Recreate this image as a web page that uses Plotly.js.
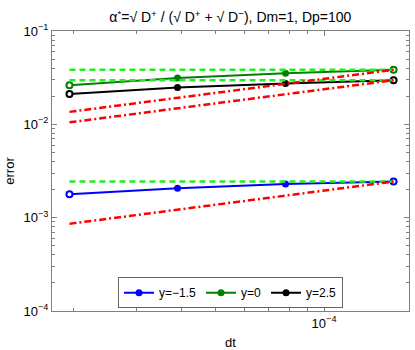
<!DOCTYPE html>
<html>
<head>
<meta charset="utf-8">
<script src="https://cdn.plot.ly/plotly-3.0.1.min.js"></script>
<style>
  html, body { margin: 0; padding: 0; background: #fff; }
  #chart { width: 415px; height: 350px; }
</style>
</head>
<body>
<div id="chart"></div>
<script>
// 時間步長
const dt = [1.953125e-5, 3.90625e-5, 7.8125e-5, 1.5625e-4];

// 三條誤差曲線
const errM15 = [0.00178, 0.00207, 0.00230, 0.00244];
const err0   = [0.0262, 0.0313, 0.0353, 0.0384];
const err25  = [0.0212, 0.0248, 0.0274, 0.0297];

// 綠色虛線（水平參考線）
const flatHi  = [0.0384, 0.0384, 0.0384, 0.0384];
const flatMid = [0.0297, 0.0297, 0.0297, 0.0297];
const flatLo  = [0.00244, 0.00244, 0.00244, 0.00244];

// 紅色點劃線（斜率 1/2 參考線）
const halfHi  = [0.0136, 0.0192, 0.0272, 0.0384];
const halfMid = [0.0105, 0.0149, 0.0210, 0.0297];
const halfLo  = [0.00086, 0.00122, 0.00173, 0.00244];

// 刻度
const xTickVals = [1e-4];
const xTickText = ['10<sup>\u22124</sup>'];
const yTickVals = [1e-4, 1e-3, 1e-2, 1e-1];
const yTickText = ['10<sup>\u22124</sup>', '10<sup>\u22123</sup>', '10<sup>\u22122</sup>', '10<sup>\u22121</sup>'];

const seriesNames = ['y=\u22121.5', 'y=0', 'y=2.5'];
const seriesColors = ['#0000ff', '#008000', '#000000'];
const seriesData = [errM15, err0, err25];

const FONT = 'Liberation Sans';

const traces = [];

// 主要曲線
seriesData.forEach((ys, i) => {
    traces.push({
        x: dt, y: ys,
        mode: 'lines+markers',
        type: 'scatter',
        name: seriesNames[i],
        line: { color: seriesColors[i], width: 2 },
        marker: { color: seriesColors[i], size: 7, symbol: 'circle' }
    });
});

// 端點空心圓
seriesData.forEach((ys, i) => {
    traces.push({
        x: [dt[0], dt[dt.length - 1]],
        y: [ys[0], ys[ys.length - 1]],
        mode: 'markers',
        type: 'scatter',
        showlegend: false,
        hoverinfo: 'skip',
        marker: { color: '#ffffff', size: 6, symbol: 'circle',
                  line: { color: seriesColors[i], width: 2 } }
    });
});

// 綠色虛線
[flatHi, flatMid, flatLo].forEach(ys => {
    traces.push({
        x: dt, y: ys,
        mode: 'lines', type: 'scatter', showlegend: false,
        line: { color: '#22ee22', width: 2.5, dash: '6px,4px' }
    });
});

// 紅色點劃線
[halfHi, halfMid, halfLo].forEach(ys => {
    traces.push({
        x: dt, y: ys,
        mode: 'lines', type: 'scatter', showlegend: false,
        line: { color: '#ff0000', width: 2.5, dash: '7px,3px,2px,3px' }
    });
});

const axisCommon = {
    type: 'log',
    showline: true,
    linecolor: '#808080',
    linewidth: 1,
    mirror: 'allticks',
    ticks: 'inside',
    ticklen: 5,
    tickcolor: '#808080',
    showgrid: false,
    zeroline: false,
    tickfont: { family: FONT, size: 13, color: '#000' }
};

function minorVals(lo, hi) {
    const v = [];
    for (let e = lo; e < hi; e++) {
        for (let k = 2; k <= 9; k++) v.push(k * Math.pow(10, e));
    }
    return v;
}

const layout = {
    width: 415,
    height: 350,
    margin: { l: 52, r: 6, t: 31, b: 39 },
    paper_bgcolor: '#ffffff',
    plot_bgcolor: '#ffffff',
    font: { family: FONT, size: 13, color: '#000' },
    title: {
        text: '\u03b1<sup>*</sup>=\u221a D<sup>+</sup> / (\u221a D<sup>+</sup> + \u221a D<sup>\u2212</sup>), Dm=1, Dp=100',
        font: { family: FONT, size: 14 },
        x: 0.555, xanchor: 'center',
        y: 0.95, yanchor: 'middle'
    },
    xaxis: Object.assign({}, axisCommon, {
        range: [Math.log10(1.746e-5), Math.log10(1.725e-4)],
        tickmode: 'array',
        tickvals: xTickVals,
        ticktext: xTickText,
        minor: { tickmode: 'array', tickvals: minorVals(-5, -3), ticks: 'inside', ticklen: 3, tickcolor: '#808080' },
        title: { text: 'dt', font: { family: FONT, size: 13 }, standoff: 8 }
    }),
    yaxis: Object.assign({}, axisCommon, {
        range: [-4, -1],
        tickmode: 'array',
        tickvals: yTickVals,
        ticktext: yTickText,
        minor: { tickmode: 'array', tickvals: minorVals(-4, -1), ticks: 'inside', ticklen: 3, tickcolor: '#808080' },
        title: { text: 'error', font: { family: FONT, size: 13 }, standoff: 6 }
    }),
    showlegend: true,
    legend: {
        orientation: 'h',
        x: 0.5, xanchor: 'center',
        y: 0.01, yanchor: 'bottom',
        bgcolor: '#ffffff',
        bordercolor: '#666666',
        borderwidth: 1,
        font: { family: FONT, size: 12 },
        itemwidth: 30,
        tracegroupgap: 0
    }
};

Plotly.newPlot('chart', traces, layout, { staticPlot: true });
</script>
</body>
</html>
